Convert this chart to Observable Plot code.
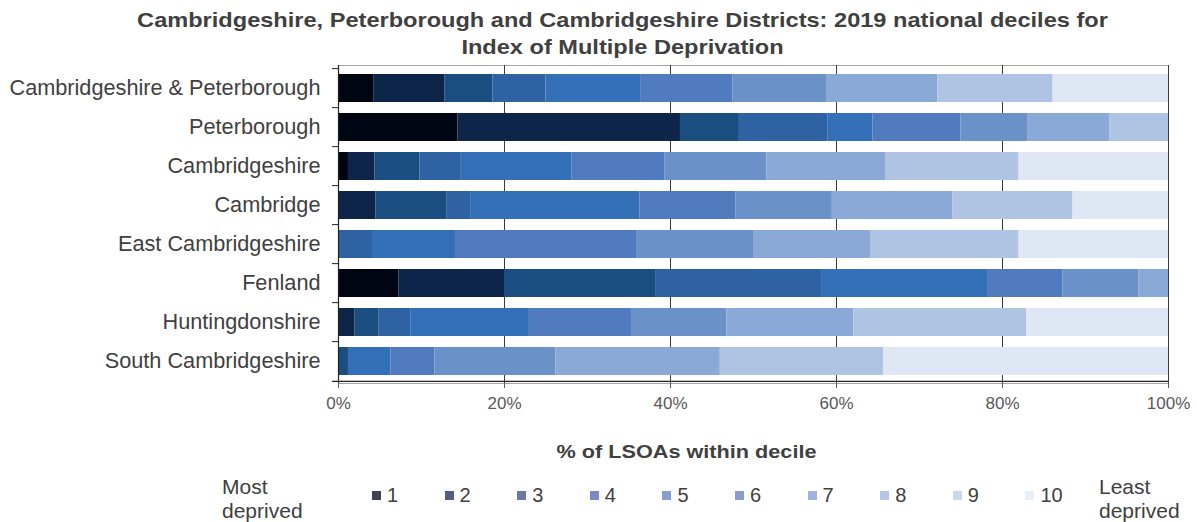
<!DOCTYPE html>
<html><head><meta charset="utf-8">
<script src="https://cdn.jsdelivr.net/npm/d3@7"></script>
<script src="https://cdn.jsdelivr.net/npm/@observablehq/plot@0.6"></script>
<style>
body{margin:0;background:#fff;font-family:"Liberation Sans",Arial,sans-serif;}
#wrap{position:relative;width:1197px;height:522px;overflow:hidden;background:#fff}
#title{position:absolute;left:24px;top:6px;width:1197px;text-align:center;font-weight:bold;font-size:20.5px;line-height:27px;color:#404040;z-index:2;transform:scaleX(1.15);transform-origin:598.5px 50%}
#chart{position:absolute;left:0;top:0;z-index:1}
#xlabel{position:absolute;left:0;top:440px;width:1373px;text-align:center;font-weight:bold;font-size:19px;line-height:24px;color:#404040;z-index:2;transform:scaleX(1.14);transform-origin:686.5px 50%}
.leg{position:absolute;font-size:20px;line-height:24px;color:#404040;white-space:nowrap;z-index:2}
.sw{position:absolute;width:9px;height:9px;z-index:2}
</style></head>
<body>
<div id="wrap">
  <div id="chart"></div>
  <div id="title">Cambridgeshire, Peterborough and Cambridgeshire Districts: 2019 national deciles for<br>Index of Multiple Deprivation</div>
  <div id="xlabel">% of LSOAs within decile</div>
  <div id="legend"></div>
</div>
<script>
// Categories (top to bottom)
const areas = ["Cambridgeshire & Peterborough", "Peterborough", "Cambridgeshire", "Cambridge",
  "East Cambridgeshire", "Fenland", "Huntingdonshire", "South Cambridgeshire"];
const deciles = ["1","2","3","4","5","6","7","8","9","10"];

// % of LSOAs in each decile (1 = most deprived ... 10 = least deprived)
const cambsAndPeterborough = [4.3, 8.5, 5.8, 6.4, 11.4, 11.1, 11.3, 13.4, 13.9, 13.9];
const peterborough         = [14.4, 26.8, 7.1, 10.7, 5.4, 10.6, 8.1, 9.8, 7.1, 0];
const cambridgeshire       = [1.2, 3.2, 5.4, 5.0, 13.3, 11.2, 12.3, 14.3, 16.1, 18.0];
const cambridge            = [0, 4.5, 8.6, 2.9, 20.3, 11.6, 11.6, 14.5, 14.5, 11.5];
const eastCambridgeshire   = [0, 0, 0, 4.1, 10.0, 21.9, 14.0, 14.1, 17.9, 18.0];
const fenland              = [7.3, 12.7, 18.2, 20.0, 20.0, 9.1, 9.1, 3.6, 0, 0];
const huntingdonshire      = [0, 2.0, 2.9, 3.8, 14.3, 12.4, 11.4, 15.3, 20.8, 17.1];
const southCambridgeshire  = [0, 0, 1.2, 0, 5.1, 5.3, 14.6, 19.8, 19.7, 34.3];

const xTicks = [0, 20, 40, 60, 80, 100];

const barColors = ["#000514","#0c2548","#1a4d80","#2f62a3","#3370b8","#507bbf","#6b91c9","#8aa9d7","#afc4e3","#dee7f3"];
const legendColors = ["#404452","#575d80","#6c78a3","#7a8cc0","#879fd3","#8a9dcd","#9fb3de","#b4c5e7","#cad7ee","#e8eef7"];

const series = [cambsAndPeterborough, peterborough, cambridgeshire, cambridge,
  eastCambridgeshire, fenland, huntingdonshire, southCambridgeshire];
const data = [];
areas.forEach((a, i) => deciles.forEach((d, j) => data.push({area: a, decile: d, value: series[i][j]})));

const W = 1197, H = 470, mL = 338, mR = 29, mT = 65, mB = 87;
const step = (H - mT - mB) / areas.length;

const chart = Plot.plot({
  width: W, height: H,
  marginLeft: mL, marginRight: mR, marginTop: mT, marginBottom: mB,
  style: {fontFamily: "'Liberation Sans', Arial, sans-serif", background: "transparent", overflow: "visible"},
  x: {domain: [0, 100]},
  y: {domain: areas, paddingInner: 0.29, paddingOuter: 0.145},
  color: {domain: deciles, range: barColors},
  marks: [
    Plot.frame({stroke: "#a6a6a6"}),
    Plot.ruleX(xTicks.slice(1), {stroke: "#3a3a3a", strokeWidth: 1}),
    Plot.barX(data, {x: "value", y: "area", fill: "decile"}),
    Plot.ruleX([0], {stroke: "#222", strokeWidth: 1.2}),
    Plot.ruleY(areas, {y: d => d, dy: -step / 2, x1: 0, x2: 0, insetLeft: -6, stroke: "#222"}),
    Plot.ruleY([areas[areas.length - 1]], {y: d => d, dy: step / 2, x1: 0, x2: 100, insetLeft: -6, stroke: "#222", strokeWidth: 1.2}),
    Plot.axisX({ticks: xTicks, tickFormat: d => d + "%", tickSize: 5, tickPadding: 8, fontSize: 17, color: "#595959", label: null}),
    Plot.axisY({tickSize: 0, tickPadding: 18, fontSize: 21.7, color: "#404040", label: null})
  ]
});
document.getElementById("chart").appendChild(chart);

// Legend (HTML)
const leg = document.getElementById("legend");
const add = (html, left, top, cls) => { const el = document.createElement("div"); el.className = cls; el.style.left = left + "px"; el.style.top = top + "px"; el.innerHTML = html; leg.appendChild(el); return el; };
add("Most<br>deprived", 222, 475, "leg").style.fontSize = "21px";
add("Least<br>deprived", 1099, 475, "leg").style.fontSize = "21px";
deciles.forEach((d, i) => {
  const x = 372 + i * 72.6;
  const sw = add("", x, 491, "sw");
  sw.style.background = legendColors[i];
  add(d, x + 15, 483, "leg");
});
</script>
</body></html>
